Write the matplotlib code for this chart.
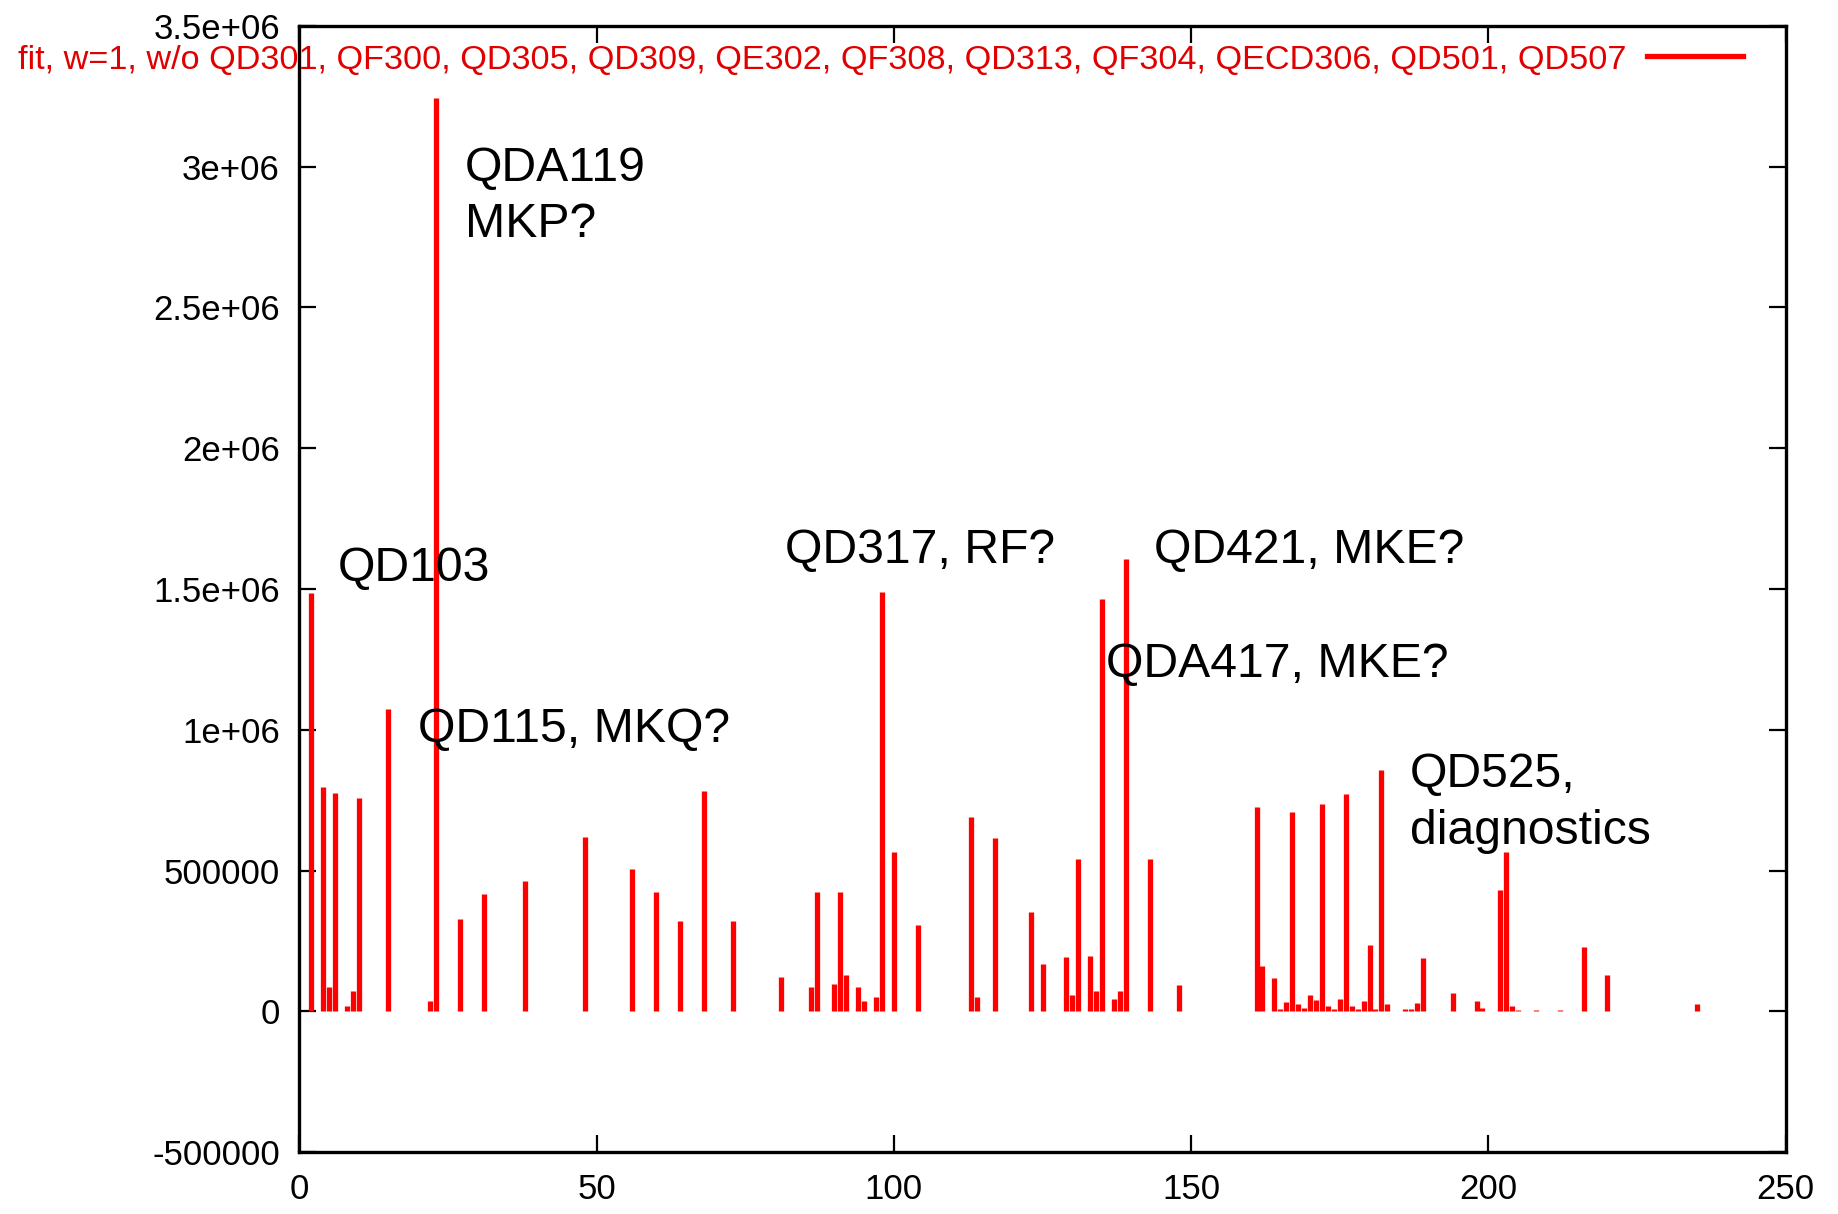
import matplotlib
matplotlib.use("Agg")
import matplotlib.pyplot as plt
from matplotlib.lines import Line2D

plt.rcParams['font.family'] = ['Liberation Sans', 'DejaVu Sans']

# ---- data ----
element_index = [2, 4, 5, 6, 8, 9, 10, 15, 22, 23, 27, 31, 38, 48, 56, 60, 64, 68, 73,
                 81, 86, 87, 90, 91, 92, 94, 95, 97, 98, 99, 100, 104, 113, 114, 115, 117,
                 123, 125, 126, 129, 130, 131, 133, 134, 135, 137, 138, 139, 143, 147, 148,
                 161, 162, 164, 165, 166, 167, 168, 169, 170, 171, 172, 173, 174, 175, 176,
                 177, 178, 179, 180, 181, 182, 183, 186, 187, 188, 189, 194, 198, 199,
                 202, 203, 204, 205, 208, 212, 216, 220, 235]
fit_value = [1487000, 796000, 86000, 776000, 18000, 74000, 759000, 1074000, 37000, 3242000,
             330000, 417000, 464000, 621000, 507000, 425000, 322000, 784000, 322000,
             124000, 86000, 426000, 96000, 426000, 130000, 86000, 39000, 51000, 1488000, 3000,
             568000, 307000, 690000, 51000, 3000, 615000,
             354000, 168000, 3000, 194000, 59000, 543000, 197000, 71000, 1463000, 45000, 71000,
             1605000, 540000, 3000, 94000,
             726000, 160000, 118000, 9000, 33000, 709000, 25000, 14000, 59000, 42000, 735000,
             21000, 9000, 45000, 773000, 21000, 9000, 37000, 236000, 9000, 859000, 27000,
             9000, 9000, 30000, 189000, 65000, 37000, 14000,
             431000, 568000, 21000, 7000, 7000, 7000, 228000, 130000, 27000]

x_ticks = [0, 50, 100, 150, 200, 250]
x_tick_labels = ["0", "50", "100", "150", "200", "250"]
y_ticks = [-500000, 0, 500000, 1000000, 1500000, 2000000, 2500000, 3000000, 3500000]
y_tick_labels = ["-500000", "0", "500000", "1e+06", "1.5e+06", "2e+06", "2.5e+06", "3e+06", "3.5e+06"]

legend_label = ("fit, w=1, w/o QD301, QF300, QD305, QD309, QE302, QF308, QD313, "
                "QF304, QECD306, QD501, QD507")

annotations = [
    ("QDA119", 27.9, 2949000),
    ("MKP?", 27.9, 2751000),
    ("QD103", 6.5, 1530000),
    ("QD115, MKQ?", 20.0, 958000),
    ("QD317, RF?", 81.7, 1592000),
    ("QD421, MKE?", 143.8, 1592000),
    ("QDA417, MKE?", 135.7, 1189000),
    ("QD525,", 186.8, 796000),
    ("diagnostics", 186.8, 595000),
]

# ---- figure ----
W, H = 1838, 1214
fig = plt.figure(figsize=(W / 100, H / 100), dpi=100)
ax = fig.add_axes([299.3 / W, 1 - 1152.3 / H, (1785.7 - 299.3) / W, (1152.3 - 25.8) / H])

ax.vlines(element_index, 0, fit_value, colors='#ff0000', linewidth=3.8, capstyle='butt')

ax.set_xlim(0, 250)
ax.set_ylim(-500000, 3500000)
ax.set_xticks(x_ticks)
ax.set_xticklabels(x_tick_labels)
ax.set_yticks(y_ticks)
ax.set_yticklabels(y_tick_labels)

ax.tick_params(axis='both', which='major', direction='in', length=12, width=1.6,
               top=True, right=True, labelsize=25, color='black')
ax.tick_params(axis='y', pad=14)
ax.tick_params(axis='x', pad=15)
for s in ax.spines.values():
    s.set_linewidth(2.4)
    s.set_color('black')

for txt, x, y in annotations:
    ax.text(x, y, txt, fontsize=34.7, color='black', ha='left', va='baseline')

handle = Line2D([], [], color='#ff0000', linewidth=3.8)
leg = ax.legend([handle], [legend_label], loc='center right',
                bbox_to_anchor=(1743 / W, 1 - 60 / H), bbox_transform=fig.transFigure,
                frameon=False, markerfirst=False, fontsize=24.7,
                handlelength=2.8, handletextpad=0.6, borderpad=0, borderaxespad=0)
for t in leg.get_texts():
    t.set_color('#e00000')

fig.savefig("out.png", dpi=100)
